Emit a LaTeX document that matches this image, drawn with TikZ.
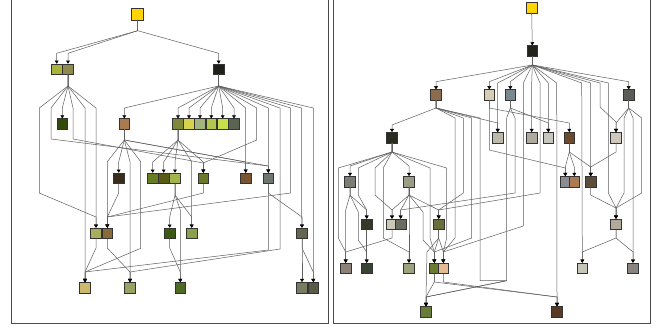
\documentclass[tikz,border=0pt]{standalone}
\usetikzlibrary{arrows.meta}
\definecolor{frm}{HTML}{4A4A4A}
\definecolor{edg}{HTML}{5E5E5E}
\definecolor{bdr}{HTML}{333333}
% left colours
\definecolor{cL0}{HTML}{FFD400}
\definecolor{cL1a}{HTML}{A9B23A}\definecolor{cL1b}{HTML}{8F8A4E}\definecolor{cL1c}{HTML}{1E2019}
\definecolor{cL2a}{HTML}{344A0A}\definecolor{cL2b}{HTML}{A97B4E}\definecolor{cL2c}{HTML}{7E8A3A}
\definecolor{cL2d}{HTML}{D6D24E}\definecolor{cL2e}{HTML}{A3B47E}\definecolor{cL2f}{HTML}{B5C650}
\definecolor{cL2g}{HTML}{C8E04A}\definecolor{cL2h}{HTML}{5B6450}
\definecolor{cL3a}{HTML}{3A2C1C}\definecolor{cL3b}{HTML}{687C24}\definecolor{cL3c}{HTML}{5A5A18}
\definecolor{cL3d}{HTML}{A3B44A}\definecolor{cL3e}{HTML}{6A7A28}\definecolor{cL3f}{HTML}{7A5430}
\definecolor{cL3g}{HTML}{6E7670}
\definecolor{cL4a}{HTML}{A9AE5C}\definecolor{cL4b}{HTML}{8A6A3A}\definecolor{cL4c}{HTML}{3E5A12}
\definecolor{cL4d}{HTML}{8AA04A}\definecolor{cL4e}{HTML}{666650}
\definecolor{cL5a}{HTML}{CDB86E}\definecolor{cL5b}{HTML}{98A262}\definecolor{cL5c}{HTML}{4E6B26}
\definecolor{cL5d}{HTML}{7A7C62}\definecolor{cL5e}{HTML}{5C5A44}
% right colours
\definecolor{cR1}{HTML}{22241C}
\definecolor{cR2a}{HTML}{8C6C4C}\definecolor{cR2b}{HTML}{D6CDB4}\definecolor{cR2c}{HTML}{7A8990}\definecolor{cR2d}{HTML}{5A5C58}
\definecolor{cR3a}{HTML}{2A2C20}\definecolor{cR3b}{HTML}{BAB9AA}\definecolor{cR3c}{HTML}{AEAA9E}
\definecolor{cR3d}{HTML}{C6C6BE}\definecolor{cR3e}{HTML}{6C4A2E}\definecolor{cR3f}{HTML}{CEC9BC}
\definecolor{cR4a}{HTML}{7C7E76}\definecolor{cR4b}{HTML}{9A9C86}\definecolor{cR4c}{HTML}{8A8C92}
\definecolor{cR4d}{HTML}{AA7A52}\definecolor{cR4e}{HTML}{5C4C3A}
\definecolor{cR5a}{HTML}{36382A}\definecolor{cR5b}{HTML}{CCC8B6}\definecolor{cR5c}{HTML}{6A6C62}
\definecolor{cR5d}{HTML}{6A6E3A}\definecolor{cR5e}{HTML}{B2AA9A}
\definecolor{cR6a}{HTML}{8C8278}\definecolor{cR6b}{HTML}{3A4232}\definecolor{cR6c}{HTML}{9CA27E}
\definecolor{cR6d}{HTML}{6A7A30}\definecolor{cR6e}{HTML}{E6BA92}\definecolor{cR6f}{HTML}{C6C6B8}
\definecolor{cR6g}{HTML}{8A8480}
\definecolor{cR7a}{HTML}{6A7C3A}\definecolor{cR7b}{HTML}{5A3A26}
\begin{document}
\begin{tikzpicture}[x=1pt,y=-1pt,
  sq/.style={draw=bdr,line width=0.75pt,fill=#1,minimum size=10.5pt,inner sep=0pt,outer sep=0pt},
  e/.style={draw=edg,line width=0.5pt,-{Triangle[length=3.2pt,width=3.8pt,color=black]},shorten >=0.3pt},
  panel/.style={draw=frm,line width=0.9pt}]
\useasboundingbox (0,0) rectangle (659,329);
\draw[panel] (11,-5) rectangle (328,323);
\draw[panel] (333,-5) rectangle (650,323);
% ---------------- left nodes
\node[sq=cL0,minimum size=12pt] (L0) at (137.7,14) {};
\node[sq=cL1a] (L1a) at (56.7,69.3) {};
\node[sq=cL1b] (L1b) at (68,69.3) {};
\node[sq=cL1c] (L1c) at (218.7,69.3) {};
\node[sq=cL2a] (L2a) at (62.3,124) {};
\node[sq=cL2b] (L2b) at (124.3,124) {};
\node[sq=cL2c] (L2c) at (178,124) {};
\node[sq=cL2d] (L2d) at (189,124) {};
\node[sq=cL2e] (L2e) at (200,124) {};
\node[sq=cL2f] (L2f) at (211.3,124) {};
\node[sq=cL2g] (L2g) at (222.7,124) {};
\node[sq=cL2h] (L2h) at (234,124) {};
\node[sq=cL3a] (L3a) at (118.7,178.3) {};
\node[sq=cL3b] (L3b) at (152.7,178.3) {};
\node[sq=cL3c] (L3c) at (163.7,178.3) {};
\node[sq=cL3d] (L3d) at (175,178.3) {};
\node[sq=cL3e] (L3e) at (203.3,178.3) {};
\node[sq=cL3f] (L3f) at (245.7,178.3) {};
\node[sq=cL3g] (L3g) at (268.3,178.3) {};
\node[sq=cL4a] (L4a) at (96,233.3) {};
\node[sq=cL4b] (L4b) at (107.3,233.3) {};
\node[sq=cL4c] (L4c) at (169.7,233.3) {};
\node[sq=cL4d] (L4d) at (191.7,233.3) {};
\node[sq=cL4e] (L4e) at (302,233.3) {};
\node[sq=cL5a] (L5a) at (85,287.7) {};
\node[sq=cL5b] (L5b) at (130,287.7) {};
\node[sq=cL5c] (L5c) at (180.3,287.7) {};
\node[sq=cL5d] (L5d) at (302,287.7) {};
\node[sq=cL5e] (L5e) at (313.3,287.7) {};
% ---------------- left edges
\draw[e] (L0.south) -- (137.7,30.7) -- (56.7,53.3) -- (L1a.north);
\draw[e] (L0.south) -- (137.7,30.7) -- (68,53.3) -- (L1b.north);
\draw[e] (L0.south) -- (137.7,30.7) -- (218.7,53.3) -- (L1c.north);
% from L1b
\draw[e] (L1b.south) -- (68,86) -- (39.3,108) -- (39.3,193) -- (96,217) -- (L4a.north);
\draw[e] (L1b.south) -- (68,86) -- (51,108) -- (51,139) -- (268.3,166) -- (L3g.north);
\draw[e] (L1b.south) -- (68,86) -- (62.3,108) -- (L2a.north);
\draw[e] (L1b.south) -- (68,86) -- (73,108) -- (73,139) -- (203.3,163) -- (L3e.north);
\draw[e] (L1b.south) -- (68,86) -- (85,108) -- (L5a.north);
\draw[e] (L1b.south) -- (68,86) -- (96,108) -- (L4a.north);
% from L1c
\draw[e] (L1c.south) -- (218.7,86) -- (124.3,108) -- (L2b.north);
\foreach \t/\x in {L2c/178,L2d/189,L2e/200,L2f/211.3,L2g/222.7,L2h/234}
  \draw[e] (L1c.south) -- (218.7,86) -- (\x,108) -- (\t.north);
\draw[e] (L1c.south) -- (218.7,86) -- (245.7,108) -- (L3f.north);
\draw[e] (L1c.south) -- (218.7,86) -- (256.7,108) -- (256.7,140) -- (203.3,163) -- (L3e.north);
\draw[e] (L1c.south) -- (218.7,86) -- (268.3,108) -- (L3g.north);
\draw[e] (L1c.south) -- (218.7,86) -- (280,108) -- (280,249) -- (130,272) -- (L5b.north);
\draw[e] (L1c.south) -- (218.7,86) -- (290.7,108) -- (290.7,193) -- (107.3,217) -- (L4b.north);
\draw[e] (L1c.south) -- (218.7,86) -- (301.7,108) -- (301.7,217) -- (L4e.north);
\draw[e] (L1c.south) -- (218.7,86) -- (313.3,108) -- (L5e.north);
% from L2b
\draw[e] (L2b.south) -- (124.3,140) -- (107.3,161.7) -- (L4b.north);
\draw[e] (L2b.south) -- (124.3,140) -- (118.7,162) -- (L3a.north);
\draw[e] (L2b.south) -- (124.3,140) -- (130,161.7) -- (L5b.north);
\draw[e] (L2b.south) -- (124.3,140) -- (140.7,161.7) -- (140.7,248.3) -- (85,272) -- (L5a.north);
\draw[e] (L2b.south) -- (124.3,140) -- (268.3,166) -- (L3g.north);
\draw[e] (L2b.south) -- (124.3,140) -- (245.7,162) -- (L3f.north);
% from L2c
\draw[e] (L2c.south) -- (178,140) -- (152.7,162) -- (L3b.north);
\draw[e] (L2c.south) -- (178,140) -- (163.7,162) -- (L3c.north);
\draw[e] (L2c.south) -- (178,140) -- (175,162) -- (L3d.north);
\draw[e] (L2c.south) -- (178,140) -- (191.7,162) -- (L4d.north);
\draw[e] (L2c.south) -- (178,140) -- (203.3,162) -- (L3e.north);
% level 3 out
\draw[e] (L3a.south) -- (118.7,193) -- (107.3,217) -- (L4b.north);
\draw[e] (L3d.south) -- (175,195) -- (169.7,217) -- (L4c.north);
\draw[e] (L3d.south) -- (175,195) -- (180.3,210) -- (L5c.north);
\draw[e] (L3d.south) -- (175,195) -- (191.7,217) -- (L4d.north);
\draw[e] (L3e.south) -- (203.3,193) -- (107.3,217) -- (L4b.north);
\draw[e] (L3g.south) -- (268.3,193) -- (302,217) -- (L4e.north);
\draw[e] (L3g.south) -- (268.3,193) -- (268.3,250) -- (85,272) -- (L5a.north);
% level 4 out
\draw[e] (L4a.south) -- (96,248) -- (85,272) -- (L5a.north);
\draw[e] (L4b.south) -- (107.3,248) -- (130,272) -- (L5b.north);
\draw[e] (L4c.south) -- (169.7,248) -- (180.3,272) -- (L5c.north);
\draw[e] (L4e.south) -- (302,248) -- (L5d.north);
\draw[e] (L4e.south) -- (302,248) -- (313.3,272) -- (L5e.north);
% ---------------- right nodes
\node[sq=cL0] (R0) at (531.7,7.7) {};
\node[sq=cR1] (R1) at (532.3,51) {};
\node[sq=cR2a] (R2a) at (436,95) {};
\node[sq=cR2b] (R2b) at (489.3,95) {};
\node[sq=cR2c] (R2c) at (510.3,95) {};
\node[sq=cR2d] (R2d) at (628.7,95) {};
\node[sq=cR3a] (R3a) at (392,137.7) {};
\node[sq=cR3b] (R3b) at (497.7,137.7) {};
\node[sq=cR3c] (R3c) at (531.7,137.7) {};
\node[sq=cR3d] (R3d) at (548.3,137.7) {};
\node[sq=cR3e] (R3e) at (569.3,137.7) {};
\node[sq=cR3f] (R3f) at (616,137.7) {};
\node[sq=cR4a] (R4a) at (350,181.7) {};
\node[sq=cR4b] (R4b) at (409,181.7) {};
\node[sq=cR4c] (R4c) at (565.3,181.7) {};
\node[sq=cR4d] (R4d) at (574.3,181.7) {};
\node[sq=cR4e] (R4e) at (590.7,181.7) {};
\node[sq=cR5a] (R5a) at (366.7,224.3) {};
\node[sq=cR5b] (R5b) at (392,224.3) {};
\node[sq=cR5c] (R5c) at (400.7,224.3) {};
\node[sq=cR5d] (R5d) at (438.7,224.3) {};
\node[sq=cR5e] (R5e) at (616,224.3) {};
\node[sq=cR6a] (R6a) at (345.7,268.3) {};
\node[sq=cR6b] (R6b) at (366.7,268.3) {};
\node[sq=cR6c] (R6c) at (409,268.3) {};
\node[sq=cR6d] (R6d) at (434.3,268.3) {};
\node[sq=cR6e] (R6e) at (443.3,268.3) {};
\node[sq=cR6f] (R6f) at (582.3,268.3) {};
\node[sq=cR6g] (R6g) at (633,268.3) {};
\node[sq=cR7a] (R7a) at (426,311.7) {};
\node[sq=cR7b] (R7b) at (557,311.7) {};
% ---------------- right edges
\draw[e] (R0.south) -- (R1.north);
\draw[e] (R1.south) -- (532.3,65) -- (436,81.7) -- (R2a.north);
\draw[e] (R1.south) -- (532.3,65) -- (489.3,81.7) -- (R2b.north);
\draw[e] (R1.south) -- (532.3,65) -- (497.7,83) -- (R3b.north);
\draw[e] (R1.south) -- (532.3,65) -- (510.3,81.7) -- (R2c.north);
\draw[e] (R1.south) -- (532.3,65) -- (523.3,83) -- (523.3,226) -- (443.3,252) -- (R6e.north);
\draw[e] (R1.south) -- (532.3,65) -- (531.7,83) -- (R3c.north);
\draw[e] (R1.south) -- (532.3,65) -- (540,83) -- (540,193) -- (438.7,210) -- (R5d.north);
\draw[e] (R1.south) -- (532.3,65) -- (548.3,83) -- (R3d.north);
\draw[e] (R1.south) -- (532.3,65) -- (556.7,83) -- (557,296) -- (R7b.north);
\draw[e] (R1.south) -- (532.3,65) -- (581.7,83) -- (582.3,252) -- (R6f.north);
\draw[e] (R1.south) -- (532.3,65) -- (590.7,83) -- (R4e.north);
\draw[e] (R1.south) -- (532.3,65) -- (600,83) -- (600,107) -- (616,122) -- (R3f.north);
\draw[e] (R1.south) -- (532.3,65) -- (608.3,83) -- (608.3,193) -- (616,208) -- (R5e.north);
\draw[e] (R1.south) -- (532.3,65) -- (628.7,81.7) -- (R2d.north);
% from R2a
\draw[e] (R2a.south) -- (436,108) -- (392,125) -- (R3a.north);
\draw[e] (R2a.south) -- (436,108) -- (455,118) -- (455,238) -- (443.3,252) -- (R6e.north);
\draw[e] (R2a.south) -- (436,108) -- (463.3,118) -- (463.3,193) -- (438.7,210) -- (R5d.north);
\draw[e] (R2a.south) -- (436,108) -- (471.7,118) -- (471.7,238) -- (434.3,252) -- (R6d.north);
\draw[e] (R2a.south) -- (436,108) -- (480,118) -- (480,280.7) -- (506.7,280.7) -- (426,297) -- (R7a.north);
\draw[e] (R2a.south) -- (436,108) -- (497.7,123) -- (R3b.north);
% from R2b, R2c, R2d
\draw[e] (R2b.south) -- (489.3,150) -- (565.3,168) -- (R4c.north);
\draw[e] (R2b.south) -- (489.3,108) -- (569.3,123) -- (R3e.north);
\draw[e] (R2c.south) -- (510.3,108) -- (548.3,123) -- (R3d.north);
\draw[e] (R2c.south) -- (510.3,108) -- (506.7,118) -- (506.7,280.7) -- (426,297) -- (R7a.north);
\draw[e] (R2c.south) -- (510.3,108) -- (515,118) -- (515,193) -- (400.7,210) -- (R5c.north);
\draw[e] (R2d.south) -- (628.7,108) -- (616,123) -- (R3f.north);
\draw[e] (R2d.south) -- (628.7,108) -- (624,118) -- (624,193) -- (616,208) -- (R5e.north);
\draw[e] (R2d.south) -- (628.7,108) -- (633,118) -- (R6g.north);
\draw[e] (R2d.south) -- (628.7,108) -- (641.7,118) -- (641.7,193) -- (616,208) -- (R5e.north);
% from R3a
\draw[e] (R3a.south) -- (392,152) -- (338.3,168) -- (338.3,238) -- (345.7,252) -- (R6a.north);
\draw[e] (R3a.south) -- (392,152) -- (350,166) -- (R4a.north);
\draw[e] (R3a.south) -- (392,152) -- (358.3,168) -- (358.3,195) -- (366.7,210) -- (R5a.north);
\draw[e] (R3a.south) -- (392,152) -- (375,168) -- (375,195) -- (392,210) -- (R5b.north);
\draw[e] (R3a.south) -- (392,152) -- (383.3,168) -- (383.3,238) -- (409,252) -- (R6c.north);
\draw[e] (R3a.south) -- (392,152) -- (409,166) -- (R4b.north);
\draw[e] (R3a.south) -- (392,152) -- (430,168) -- (430,238) -- (434.3,252) -- (R6d.north);
\draw[e] (R3a.south) -- (392,152) -- (446.7,168) -- (446.7,238) -- (443.3,252) -- (R6e.north);
% from R3e, R3f
\draw[e] (R3e.south) -- (569.3,152) -- (565.3,167) -- (R4c.north);
\draw[e] (R3e.south) -- (569.3,152) -- (574.3,167) -- (R4d.north);
\draw[e] (R3e.south) -- (569.3,152) -- (590.7,167) -- (R4e.north);
\draw[e] (R3f.south) -- (616,152) -- (590.7,167) -- (R4e.north);
% level 4
\draw[e] (R4a.south) -- (350,195) -- (345.7,210) -- (R6a.north);
\draw[e] (R4a.south) -- (350,195) -- (366.7,210) -- (R5a.north);
\draw[e] (R4a.south) -- (350,195) -- (358.3,212) -- (358.3,240) -- (366.7,252) -- (R6b.north);
\draw[e] (R4b.south) -- (409,195) -- (392,210) -- (R5b.north);
\draw[e] (R4b.south) -- (409,195) -- (400.7,210) -- (R5c.north);
\draw[e] (R4b.south) -- (409,195) -- (409,210) -- (R6c.north);
\draw[e] (R4b.south) -- (409,195) -- (423,212) -- (423,240) -- (434.3,252) -- (R6d.north);
\draw[e] (R4b.south) -- (409,195) -- (438.7,210) -- (R5d.north);
\draw[e] (R4e.south) -- (590.7,195) -- (616,208) -- (R5e.north);
% level 5
\draw[e] (R5a.south) -- (R6b.north);
\draw[e] (R5b.south) -- (392,238) -- (345.7,252) -- (R6a.north);
\draw[e] (R5d.south) -- (438.7,238) -- (434.3,252) -- (R6d.north);
\draw[e] (R5d.south) -- (438.7,238) -- (443.3,252) -- (R6e.north);
\draw[e] (R5d.south) -- (438.7,238) -- (427,252) -- (426,297) -- (R7a.north);
\draw[e] (R5e.south) -- (616,238) -- (582.3,252) -- (R6f.north);
\draw[e] (R5e.south) -- (616,238) -- (633,252) -- (R6g.north);
% level 6
\draw[e] (R6d.south) -- (434.3,282) -- (426,297) -- (R7a.north);
\draw[e] (R6d.south) -- (434.3,282) -- (557,297) -- (R7b.north);
\draw[e] (R6e.south) -- (443.3,282) -- (557,297) -- (R7b.north);
\end{tikzpicture}
\end{document}
